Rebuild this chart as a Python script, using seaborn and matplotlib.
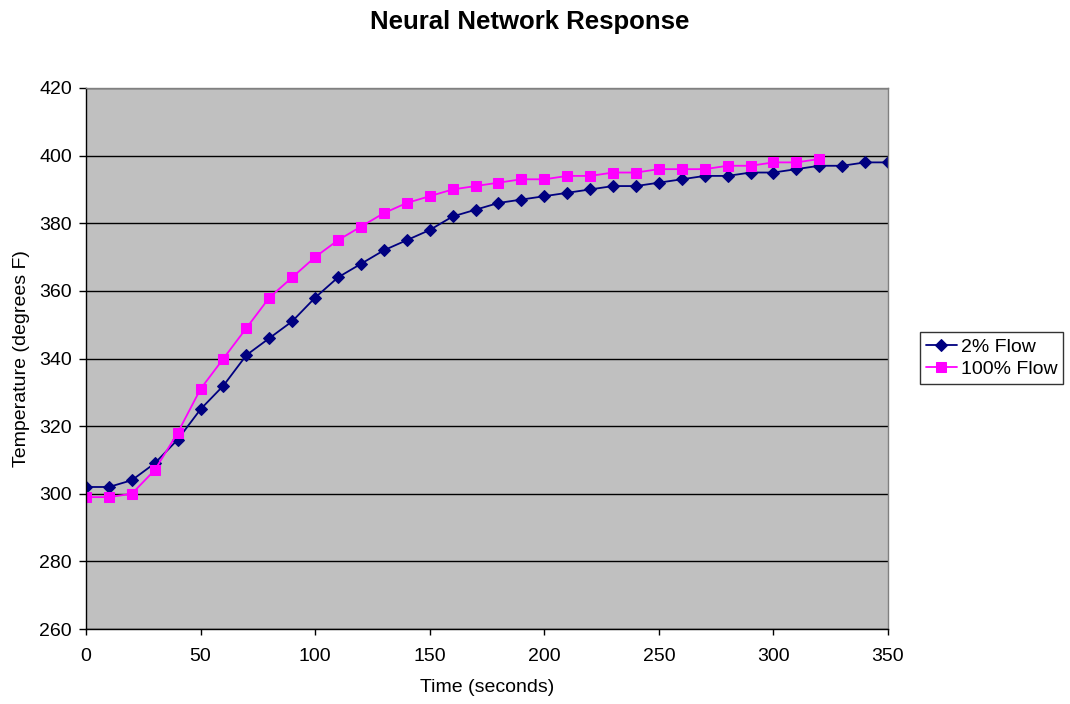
import matplotlib
matplotlib.use("Agg")
import matplotlib.pyplot as plt
import seaborn as sns
import pandas as pd

time_2 = [0, 10, 20, 30, 40, 50, 60, 70, 80, 90, 100, 110, 120, 130, 140, 150, 160, 170,
          180, 190, 200, 210, 220, 230, 240, 250, 260, 270, 280, 290, 300, 310, 320, 330, 340, 350]
flow_2 = [302, 302, 304, 309, 316, 325, 332, 341, 346, 351, 358, 364, 368, 372, 375, 378, 382, 384,
          386, 387, 388, 389, 390, 391, 391, 392, 393, 394, 394, 395, 395, 396, 397, 397, 398, 398]
time_100 = [0, 10, 20, 30, 40, 50, 60, 70, 80, 90, 100, 110, 120, 130, 140, 150, 160, 170,
            180, 190, 200, 210, 220, 230, 240, 250, 260, 270, 280, 290, 300, 310, 320]
flow_100 = [299, 299, 300, 307, 318, 331, 340, 349, 358, 364, 370, 375, 379, 383, 386, 388, 390, 391,
            392, 393, 393, 394, 394, 395, 395, 396, 396, 396, 397, 397, 398, 398, 399]
labels = ["2% Flow", "100% Flow"]

sns.set_theme(style="white")
plt.rcParams['font.family'] = ['Liberation Sans', 'DejaVu Sans']
plt.rcParams['text.color'] = 'black'
plt.rcParams['axes.labelcolor'] = 'black'

df2 = pd.DataFrame({"t": time_2, "v": flow_2})
df100 = pd.DataFrame({"t": time_100, "v": flow_100})

fig = plt.figure(figsize=(10.70, 7.04), dpi=100)
ax = fig.add_axes([86/1070, 1 - 629/704, (888-86)/1070, (629-88)/704])
ax.set_facecolor("#C0C0C0")

sns.lineplot(data=df2, x="t", y="v", ax=ax, color="#000080", marker="D", markersize=6,
             markeredgecolor="#000080", linewidth=1.3, label=labels[0])
sns.lineplot(data=df100, x="t", y="v", ax=ax, color="#FF00FF", marker="s", markersize=7,
             markeredgecolor="#FF00FF", linewidth=1.3, label=labels[1])

ax.set_xlim(0, 350)
ax.set_ylim(260, 420)
ax.set_xticks([0, 50, 100, 150, 200, 250, 300, 350])
ax.set_yticks(range(260, 421, 20))
ax.yaxis.grid(True, color="black", linewidth=1)
ax.xaxis.grid(False)
ax.set_axisbelow(True)
ax.tick_params(axis="both", which="both", direction="out", width=1, colors="black",
               labelsize=14, left=True, bottom=True)
ax.tick_params(axis="y", length=5, pad=5)
ax.tick_params(axis="x", length=4, pad=10)
for s in ["left", "bottom"]:
    ax.spines[s].set_color("black")
    ax.spines[s].set_linewidth(1)
for s in ["top", "right"]:
    ax.spines[s].set_color("#808080")
    ax.spines[s].set_linewidth(1)

ax.set_xlabel("Time (seconds)", fontsize=14, labelpad=10)
ax.set_ylabel("Temperature (degrees F)", fontsize=14, labelpad=7)
fig.suptitle("Neural Network Response", fontsize=18.5, fontweight="bold", x=530/1070, y=1 - 10/704, va="top")

leg = ax.legend(loc="center left", bbox_to_anchor=(920/1070, 1 - 358/704), bbox_transform=fig.transFigure,
                frameon=True, fancybox=False, edgecolor="black", fontsize=14, handlelength=1.6,
                borderpad=0.3, labelspacing=0.25, handletextpad=0.2, borderaxespad=0)
leg.get_frame().set_linewidth(1)

fig.savefig("out.png", dpi=100)
